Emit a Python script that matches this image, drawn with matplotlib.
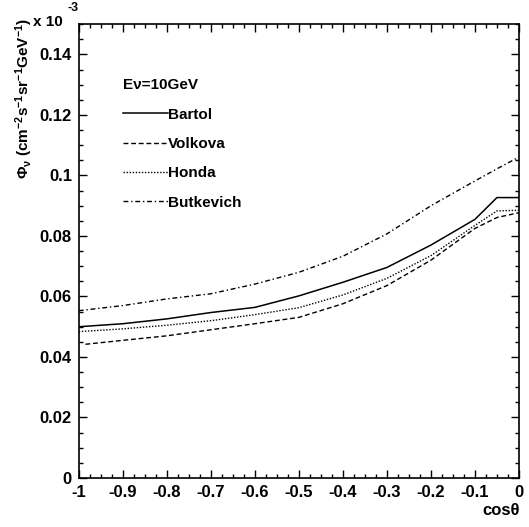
import matplotlib
matplotlib.use("Agg")
import matplotlib.pyplot as plt
from matplotlib.ticker import MultipleLocator, FixedLocator
import numpy as np

# Neutrino flux vs cos(theta) at E = 10 GeV, values in units of 1e-3
cos_theta = [-1.0, -0.9, -0.8, -0.7, -0.6, -0.5, -0.4, -0.3, -0.2, -0.1, -0.05, 0.0]
bartol    = [0.0500, 0.0510, 0.0526, 0.0547, 0.0564, 0.0602, 0.0647, 0.0696, 0.0770, 0.0855, 0.0927, 0.0927]
honda     = [0.0484, 0.0493, 0.0505, 0.0520, 0.0540, 0.0563, 0.0605, 0.0660, 0.0735, 0.0835, 0.0883, 0.0885]
volkova_x = [-0.985, -0.9, -0.8, -0.7, -0.6, -0.5, -0.4, -0.3, -0.2, -0.1, -0.05, 0.0]
volkova   = [0.0442, 0.0455, 0.0470, 0.0490, 0.0510, 0.0531, 0.0576, 0.0636, 0.0720, 0.0825, 0.0861, 0.0877]
butkevich = [0.0553, 0.0570, 0.0592, 0.0609, 0.0641, 0.0680, 0.0733, 0.0807, 0.0900, 0.0982, 0.1022, 0.1061]

x_ticks = [-1, -0.9, -0.8, -0.7, -0.6, -0.5, -0.4, -0.3, -0.2, -0.1, 0]
x_labels = ["-1", "-0.9", "-0.8", "-0.7", "-0.6", "-0.5", "-0.4", "-0.3", "-0.2", "-0.1", "0"]
y_ticks = [0, 0.02, 0.04, 0.06, 0.08, 0.10, 0.12, 0.14]
y_labels = ["0", "0.02", "0.04", "0.06", "0.08", "0.1", "0.12", "0.14"]

plt.rcParams["font.family"] = ["Liberation Sans", "DejaVu Sans"]
plt.rcParams["font.weight"] = "bold"
plt.rcParams["mathtext.fontset"] = "custom"
plt.rcParams["mathtext.rm"] = "Liberation Sans:bold"
plt.rcParams["mathtext.bf"] = "Liberation Sans:bold"
plt.rcParams["mathtext.it"] = "Liberation Sans:bold"
plt.rcParams["mathtext.default"] = "bf"

fig = plt.figure(figsize=(5.29, 5.27), dpi=100)
ax = fig.add_axes([0.149, 0.093, 0.832, 0.861])

ax.plot(cos_theta, bartol, color="black", lw=1.1, ls="-", label="Bartol")
ax.plot(volkova_x, volkova, color="black", lw=1.0, ls=(0, (3.5, 2)), label="Volkova")
ax.plot(cos_theta, honda, color="black", lw=1.0, ls=(0, (1, 1.2)), label="Honda")
ax.plot(cos_theta, butkevich, color="black", lw=1.0, ls=(0, (3.5, 2, 1, 2)), label="Butkevich")

ax.set_xlim(-1, 0)
ax.set_ylim(0, 0.15)
ax.xaxis.set_major_locator(FixedLocator(x_ticks))
ax.set_xticklabels(x_labels)
ax.xaxis.set_minor_locator(MultipleLocator(0.025))
ax.yaxis.set_major_locator(FixedLocator(y_ticks))
ax.set_yticklabels(y_labels)
ax.yaxis.set_minor_locator(MultipleLocator(0.005))
ax.tick_params(which="both", direction="in", top=True, right=True, width=1.0)
ax.tick_params(which="major", length=6, labelsize=12, pad=5)
ax.tick_params(which="minor", length=3)
for s in ax.spines.values():
    s.set_linewidth(1.2)

leg = ax.legend(loc="upper left", bbox_to_anchor=(0.087, 0.894), frameon=False,
                title="E\u03bd=10GeV", fontsize=11, title_fontsize=11,
                handlelength=2.9, handletextpad=0.0, labelspacing=1.0,
                alignment="left", borderaxespad=0)
leg.get_title().set_fontweight("bold")

fig.text(0.045, 0.965, r"$\Phi_{\nu}$ (cm$^{-2}$s$^{-1}$sr$^{-1}$GeV$^{-1}$)",
         rotation=90, ha="center", va="top", fontsize=11, fontweight="bold")
fig.text(0.062, 0.958, "x 10", ha="left", va="center", fontsize=11, fontweight="bold")
fig.text(0.127, 0.985, "-3", ha="left", va="center", fontsize=9, fontweight="bold")
fig.text(0.983, 0.032, "cos\u03b8", ha="right", va="center", fontsize=12, fontweight="bold")

fig.savefig("out.png", dpi=100)
